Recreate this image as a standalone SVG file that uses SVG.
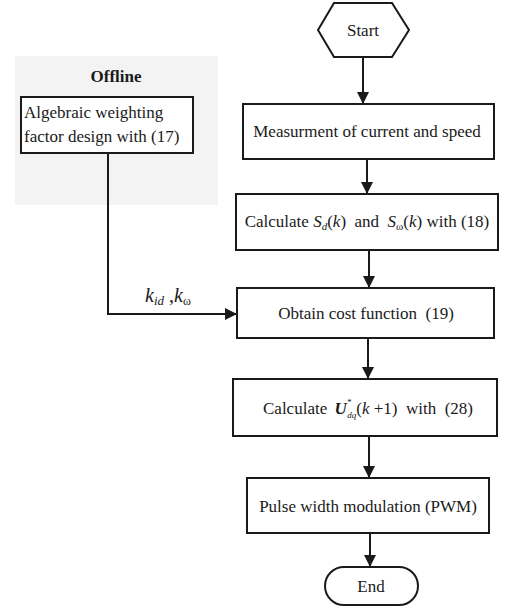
<svg xmlns="http://www.w3.org/2000/svg" width="508" height="609" viewBox="0 0 508 609" font-family="'Liberation Serif', 'Times New Roman', serif">
<defs>
<style>
.box{fill:#fff;stroke:#1a1a1a;stroke-width:2}
.t{font-family:'Liberation Serif','Times New Roman',serif;font-size:17px;fill:#1a1a1a}
.m{text-anchor:middle}
.it{font-style:italic}
.sub{font-size:11px}
.ln{fill:none;stroke:#1a1a1a;stroke-width:2}
</style>
<marker id="a" viewBox="0 0 12 12" refX="12" refY="6" markerWidth="12" markerHeight="12" orient="auto" markerUnits="userSpaceOnUse">
<path d="M0,0L12,6L0,12z" fill="#1a1a1a"/>
</marker>
</defs>
<rect width="508" height="609" fill="#fff"/>
<g id="offline">
<rect x="15" y="56" width="203" height="149" fill="#f3f3f3"/>
<text class="t m" x="116" y="82" font-weight="bold">Offline</text>
</g>
<g id="connectors">
<line class="ln" x1="363" y1="57" x2="363" y2="104" marker-end="url(#a)"/>
<line class="ln" x1="367" y1="159" x2="367" y2="194" marker-end="url(#a)"/>
<line class="ln" x1="369" y1="250" x2="369" y2="288" marker-end="url(#a)"/>
<line class="ln" x1="368" y1="338" x2="368" y2="379" marker-end="url(#a)"/>
<line class="ln" x1="369" y1="436" x2="369" y2="478" marker-end="url(#a)"/>
<line class="ln" x1="370" y1="533" x2="370" y2="567" marker-end="url(#a)"/>
<polyline class="ln" points="108,153 108,314 237,314" marker-end="url(#a)"/>
<text class="t it" x="145" y="302" style="font-size:20px" xml:space="preserve">k<tspan style="font-size:13px" dy="3">id</tspan><tspan dy="-3" font-style="normal"> ,</tspan>k<tspan style="font-size:12px;font-style:normal" dy="3">ω</tspan></text>
</g>
<g id="start">
<polygon class="box" points="318,30 334,3 392,3 409,30 392,57 334,57"/>
<text class="t m" x="363" y="36">Start</text>
</g>
<g id="weighting">
<rect class="box" x="21" y="97" width="172" height="56"/>
<text class="t" x="24" y="118">Algebraic weighting</text>
<text class="t" x="24" y="142">factor design with (17)</text>
</g>
<g id="measure">
<rect class="box" x="243" y="104" width="251" height="55"/>
<text class="t m" x="367" y="137">Measurment of current and speed</text>
</g>
<g id="calcS">
<rect class="box" x="236" y="194" width="262" height="56"/>
<text class="t m" x="367" y="227" xml:space="preserve">Calculate <tspan class="it">S</tspan><tspan class="sub it" dy="3">d</tspan><tspan dy="-3">(</tspan><tspan class="it">k</tspan>)  and  <tspan class="it">S</tspan><tspan class="sub" dy="3">ω</tspan><tspan dy="-3">(</tspan><tspan class="it">k</tspan>) with (18)</text>
</g>
<g id="cost">
<rect class="box" x="237" y="288" width="257" height="50"/>
<text class="t m" x="366" y="319" xml:space="preserve">Obtain cost function  (19)</text>
</g>
<g id="calcU">
<rect class="box" x="233" y="379" width="264" height="57"/>
<text class="t m" x="368" y="414" xml:space="preserve">Calculate <tspan class="it" font-weight="bold" dx="3">U</tspan><tspan class="it" font-size="9" dy="-9">*</tspan><tspan class="it" font-size="9" dx="-4" dy="13">dq</tspan><tspan dy="-4">(</tspan><tspan class="it">k</tspan> +1)  with  (28)</text>
</g>
<g id="pwm">
<rect class="box" x="247" y="478" width="242" height="55"/>
<text class="t m" x="368" y="512">Pulse width modulation (PWM)</text>
</g>
<g id="end">
<rect class="box" x="325" y="567" width="93" height="38" rx="19"/>
<text class="t m" x="371" y="592">End</text>
</g>
</svg>
